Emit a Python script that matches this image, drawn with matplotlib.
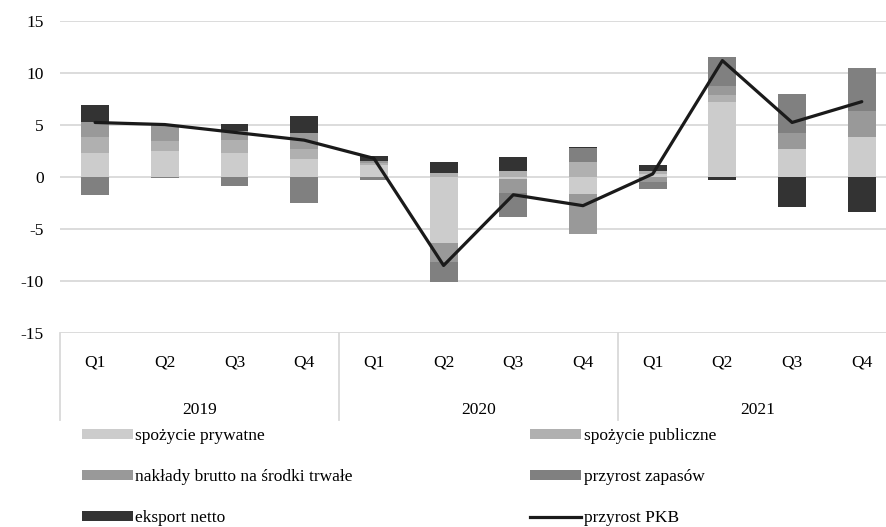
import matplotlib.pyplot as plt
import numpy as np
from matplotlib.patches import Patch
from matplotlib.lines import Line2D

plt.rcParams["font.family"] = ["Liberation Serif", "DejaVu Serif"]
plt.rcParams["font.size"] = 12.5
plt.rcParams["axes.unicode_minus"] = False

# dane (pkt proc.)
years = ["2019", "2020", "2021"]
quarters = ["Q1", "Q2", "Q3", "Q4"]
spozycie_prywatne = [2.35, 2.5, 2.35, 1.75, 1.2, -6.3, -0.2, -1.65, 0.3, 7.25, 2.7, 3.85]
spozycie_publiczne = [1.5, 0.95, 1.2, 0.95, 0.15, 0.4, 0.55, 1.45, 0.3, 0.65, 0.0, 0.0]
naklady = [1.45, 1.6, 0.9, 1.5, 0.15, -1.85, -1.3, -3.85, -0.5, 0.85, 1.55, 2.5]
zapasy = [-1.75, -0.05, -0.85, -2.45, -0.3, -1.9, -2.3, 1.3, -0.6, 2.75, 3.7, 4.1]
eksport = [1.6, 0.0, 0.65, 1.7, 0.5, 1.05, 1.4, 0.1, 0.6, -0.3, -2.85, -3.4]
pkb = [5.25, 5.05, 4.3, 3.55, 1.8, -8.5, -1.7, -2.75, 0.3, 11.2, 5.25, 7.25]

series = [
    ("spożycie prywatne", spozycie_prywatne, "#cccccc"),
    ("spożycie publiczne", spozycie_publiczne, "#b0b0b0"),
    ("nakłady brutto na środki trwałe", naklady, "#999999"),
    ("przyrost zapasów", zapasy, "#808080"),
    ("eksport netto", eksport, "#333333"),
]
line_color = "#1a1a1a"

n = len(pkb)
x = np.arange(n)

fig = plt.figure(figsize=(8.86, 5.27), dpi=100)
ax = fig.add_axes([0.068, 0.368, 0.944, 0.592])

pos_base = np.zeros(n)
neg_base = np.zeros(n)
for name, vals, color in series:
    vals = np.array(vals)
    base = np.where(vals >= 0, pos_base, neg_base)
    ax.bar(x, vals, width=0.4, bottom=base, color=color, zorder=2)
    pos_base += np.where(vals >= 0, vals, 0)
    neg_base += np.where(vals < 0, vals, 0)

ax.plot(x, pkb, color=line_color, lw=2.3, zorder=3, solid_capstyle="round")

ax.set_xlim(-0.5, n - 0.5)
ax.set_ylim(-15, 15)
ax.set_yticks(range(-15, 16, 5))
ax.yaxis.grid(True, color="#d9d9d9", lw=1.3, zorder=0)
ax.set_axisbelow(True)
for s in ax.spines.values():
    s.set_visible(False)
ax.tick_params(axis="y", length=0, pad=12)
ax.set_xticks([])

# osie kategorii: kwartały i lata
trans = ax.get_xaxis_transform()
for i in range(n):
    ax.text(x[i], -0.093, quarters[i % 4], transform=trans, ha="center", va="center", clip_on=False)
for k, yr in enumerate(years):
    ax.text(4 * k + 1.5, -0.245, yr, transform=trans, ha="center", va="center", clip_on=False)
for k in range(len(years) + 1):
    ax.plot([4 * k - 0.5] * 2, [0, -0.28], transform=trans, color="#d9d9d9", lw=1.3, clip_on=False)

h = {name: Patch(facecolor=c) for name, _, c in series}
leg_kw = dict(loc="upper left", frameon=False, borderpad=0, borderaxespad=0,
              handlelength=2.95, handleheight=0.55, handletextpad=0.15, labelspacing=1.45)
fig.legend([h["spożycie prywatne"], h["nakłady brutto na środki trwałe"], h["eksport netto"]],
           ["spożycie prywatne", "nakłady brutto na środki trwałe", "eksport netto"],
           bbox_to_anchor=(0.092, 0.188), **leg_kw)
fig.legend([h["spożycie publiczne"], h["przyrost zapasów"], Line2D([], [], color=line_color, lw=2.3)],
           ["spożycie publiczne", "przyrost zapasów", "przyrost PKB"],
           bbox_to_anchor=(0.598, 0.188), **leg_kw)

fig.savefig("out.png", dpi=100)
